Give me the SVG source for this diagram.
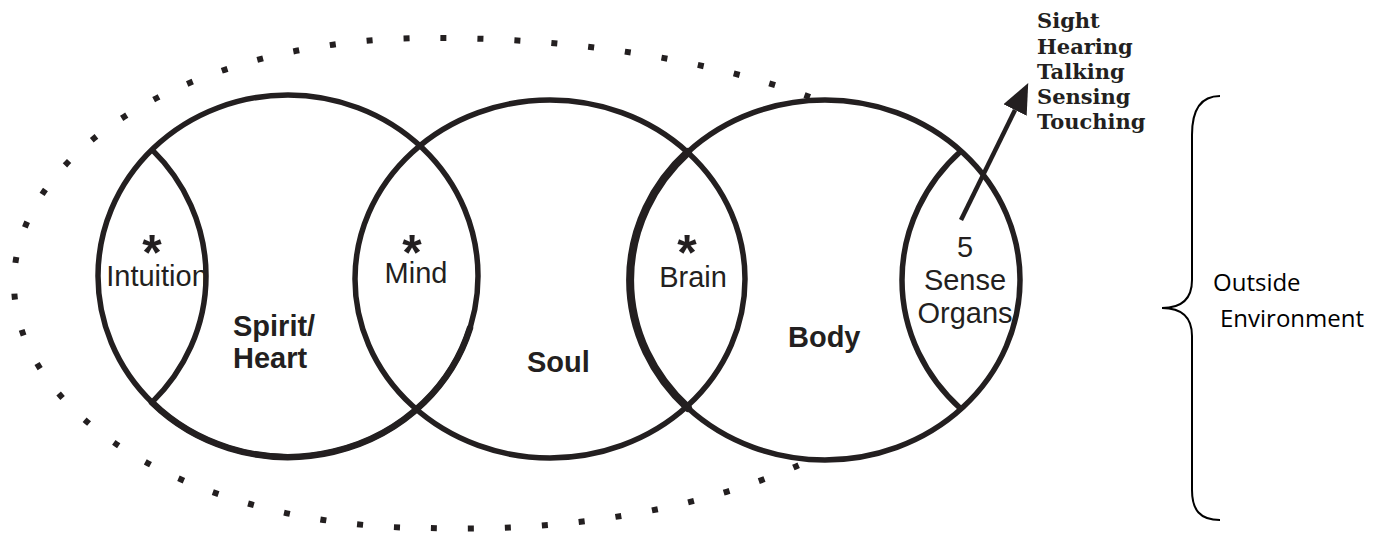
<svg xmlns="http://www.w3.org/2000/svg" width="1386" height="539" viewBox="0 0 1386 539">
  <style>
    .ring { fill: none; stroke: #231f20; stroke-width: 5.5; }
    .thick { fill: none; stroke: #231f20; stroke-width: 8; stroke-linecap: round; }
    .mid { fill: none; stroke: #231f20; stroke-width: 6.5; stroke-linecap: round; }
    .dots { fill: none; stroke: #231f20; stroke-width: 6; stroke-dasharray: 6 31; }
    .lbl { font-family: "Liberation Sans", Arial, sans-serif; font-size: 29px; fill: #231f20; text-anchor: middle; }
    .bold { font-family: "Liberation Sans", Arial, sans-serif; font-size: 29px; font-weight: bold; fill: #231f20; }
    .star { font-family: "Liberation Sans", Arial, sans-serif; font-size: 50px; font-weight: bold; fill: #231f20; text-anchor: middle; }
    .sense { font-family: "DejaVu Serif", "Liberation Serif", serif; font-size: 21px; font-weight: bold; fill: #231f20; }
    .env { font-family: "Open Sans", "Liberation Sans", sans-serif; font-size: 24px; fill: #000; }
  </style>
  <defs>
    <marker id="head" viewBox="0 0 30 26" refX="0" refY="13" markerWidth="30" markerHeight="26" markerUnits="userSpaceOnUse" orient="auto">
      <path d="M0,0 L30,13 L0,26 Z" fill="#231f20"/>
    </marker>
  </defs>
  <rect width="1386" height="539" fill="#ffffff"/>

  <g id="outer-dotted">
    <path class="dots" d="M810,97 A575,245 0 0 0 430,38 A415,245 0 0 0 14,283 A415,245 0 0 0 430,528 A500,245 0 0 0 799,465"/>
  </g>

  <g id="node-spirit">
    <ellipse class="ring" cx="288" cy="276" rx="190" ry="181"/>
    <path class="mid" d="M152,402.4 A190,181 0 0 0 470,328"/>
    <text class="bold" x="233" y="336">Spirit/</text>
    <text class="bold" x="233" y="368">Heart</text>
  </g>
  <g id="node-intuition">
    <path class="ring" d="M152,149.6 A190,181 0 0 1 152,402.4"/>
    <text class="star" x="152" y="270">*</text>
    <text class="lbl" x="157" y="286">Intuition</text>
  </g>

  <g id="node-soul">
    <ellipse class="ring" cx="550" cy="279" rx="195" ry="179"/>
    <text class="bold" x="527" y="372">Soul</text>
  </g>
  <g id="node-mind">
    <text class="star" x="412" y="270">*</text>
    <text class="lbl" x="416" y="283">Mind</text>
  </g>

  <g id="node-body">
    <ellipse class="ring" cx="825" cy="280" rx="195" ry="180"/>
    <text class="bold" x="788" y="347">Body</text>
  </g>
  <g id="node-brain">
    <path class="thick" d="M688,152 A195,180 0 0 0 688,408"/>
    <text class="star" x="687" y="270">*</text>
    <text class="lbl" x="693" y="287">Brain</text>
  </g>
  <g id="node-sense-organs">
    <path class="ring" d="M961,151 A195,180 0 0 0 961,409"/>
    <text class="lbl" x="965" y="257">5</text>
    <text class="lbl" x="965" y="290">Sense</text>
    <text class="lbl" x="965" y="323">Organs</text>
  </g>

  <g id="node-senses">
    <text class="sense" x="1037" y="28">Sight</text>
    <text class="sense" x="1037" y="54">Hearing</text>
    <text class="sense" x="1037" y="79">Talking</text>
    <text class="sense" x="1037" y="104">Sensing</text>
    <text class="sense" x="1037" y="129">Touching</text>
  </g>

  <g id="node-environment">
    <path d="M1220,96 C1200,96 1192,110 1192,135 L1192,280 C1192,300 1180,308 1162,308 C1180,308 1192,316 1192,336 L1192,490 C1192,510 1200,520 1220,520" fill="none" stroke="#000" stroke-width="2"/>
    <text class="env" x="1213" y="291">Outside</text>
    <text class="env" x="1220" y="327">Environment</text>
  </g>

  <g id="connectors">
    <line x1="961" y1="220" x2="1015" y2="110" stroke="#231f20" stroke-width="4.5" marker-end="url(#head)"/>
  </g>
</svg>
